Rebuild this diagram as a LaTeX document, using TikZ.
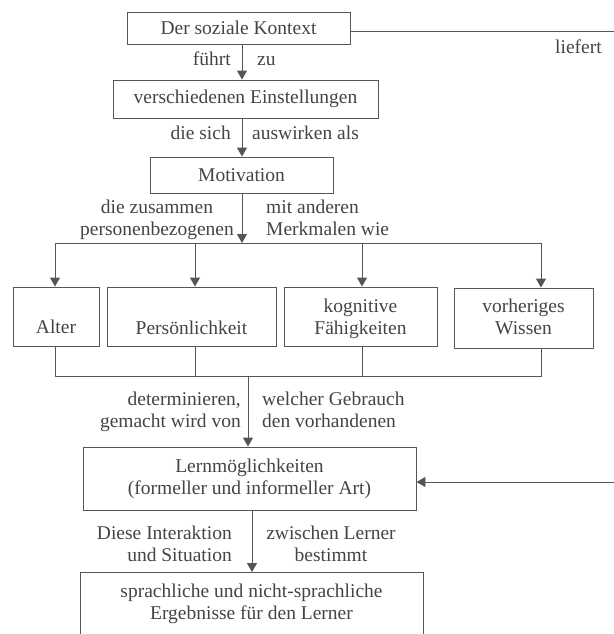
\documentclass[tikz,border=0pt]{standalone}
\usepackage{fontspec}
\setmainfont{Liberation Serif}
\usetikzlibrary{arrows.meta}
\definecolor{linecol}{HTML}{555555}
\definecolor{txtcol}{HTML}{444444}
\tikzset{
  box/.style={draw=linecol, line width=0.9pt, inner sep=0pt, text=txtcol, align=center},
  lbl/.style={inner sep=0pt, text=txtcol, font=\fontsize{19.5}{22}\selectfont},
  conn/.style={draw=linecol, line width=0.9pt},
  arr/.style={conn, -{Triangle[width=10pt,length=9pt]}},
}
\begin{document}
\begin{tikzpicture}[x=1pt,y=-1pt, font=\fontsize{19.5}{22}\selectfont]
\useasboundingbox (0,0) rectangle (613,634);
% main boxes
\node[box, minimum width=223, minimum height=32] (ctx) at (238.5,28) {Der soziale Kontext};
\node[box, minimum width=265, minimum height=38] (einst) at (245.5,99) {verschiedenen Einstellungen};
\node[box, minimum width=183, minimum height=36] (mot) at (241.5,175) {Motivation};
% row boxes
\node[box, minimum width=86, minimum height=59] (alter) at (56,316.5) {};
\node[box, minimum width=169, minimum height=59] (pers) at (191.5,316.5) {};
\node[box, minimum width=153, minimum height=59] (kog) at (360.5,316.5) {};
\node[box, minimum width=139, minimum height=60] (vor) at (523.5,318) {};
\node[lbl, anchor=base] (talter) at (56,333) {Alter};
\node[lbl, anchor=base] (tpers) at (191.5,334) {Persönlichkeit};
\node[lbl, anchor=base, align=center] (tkog) at (360.5,334) {kognitive\\Fähigkeiten};
\node[lbl, anchor=base, align=center] (tvor) at (523.5,334) {vorheriges\\Wissen};
% lower boxes
\node[box, minimum width=333, minimum height=63] (lern) at (249.5,478.5) {Lernmöglichkeiten\\(formeller und informeller Art)};
\node[box, minimum width=343, minimum height=64, anchor=north] (erg) at (251.5,572) {};
\node[lbl, anchor=base, align=center] (terg) at (251.5,619) {sprachliche und nicht-sprachliche\\Ergebnisse für den Lerner};
% spine coordinates
\coordinate (s1) at (242,0);
\coordinate (busT) at (0,243);
\coordinate (busB) at (0,376);
\coordinate (s2) at (248,0);
\coordinate (s3) at (252,0);
\coordinate (ax) at (55,0);
\coordinate (bx) at (195,0);
\coordinate (cx) at (362,0);
\coordinate (dx) at (541,0);
\coordinate (r1) at (620,31);
\coordinate (r2) at (620,482);
% connectors
\draw[arr] (ctx.south -| s1) -- (einst.north -| s1);
\draw[arr] (einst.south -| s1) -- (mot.north -| s1);
\draw[arr] (mot.south -| s1) -- (busT -| s1);
\draw[conn] (busT -| ax) -- (busT -| dx);
\draw[arr] (busT -| ax) -- (alter.north -| ax);
\draw[arr] (busT -| bx) -- (pers.north -| bx);
\draw[arr] (busT -| cx) -- (kog.north -| cx);
\draw[arr] (busT -| dx) -- (vor.north -| dx);
\draw[conn] (alter.south -| ax) -- (busB -| ax) -- (busB -| dx) -- (vor.south -| dx);
\draw[conn] (pers.south -| bx) -- (busB -| bx);
\draw[conn] (kog.south -| cx) -- (busB -| cx);
\draw[arr] (busB -| s2) -- (lern.north -| s2);
\draw[arr] (lern.south -| s3) -- (erg.north -| s3);
\draw[arr] (ctx.east |- r1) -- (r1) -- (r2) -- (lern.east |- r2);
% labels
\node[lbl, anchor=base east] (l1a) at (231,66) {führt};
\node[lbl, anchor=base west] (l1b) at (257,66) {zu};
\node[lbl, anchor=base east] (l2a) at (231,139) {die sich};
\node[lbl, anchor=base west] (l2b) at (252,139) {auswirken als};
\node[lbl, anchor=base, align=center] (l3a) at (157,235) {die zusammen\\personenbezogenen};
\node[lbl, anchor=base west, align=left] (l3b) at (266,235) {mit anderen\\Merkmalen wie};
\node[lbl, anchor=base east, align=right] (l4a) at (241,427) {determinieren,\\gemacht wird von};
\node[lbl, anchor=base west, align=left] (l4b) at (262,427) {welcher Gebrauch\\den vorhandenen};
\node[lbl, anchor=base east, align=right] (l5a) at (232,561) {Diese Interaktion\\und Situation};
\node[lbl, anchor=base, align=center] (l5b) at (331,561) {zwischen Lerner\\bestimmt};
\node[lbl, anchor=base west] (lief) at (555,54) {liefert};
\end{tikzpicture}
\end{document}
